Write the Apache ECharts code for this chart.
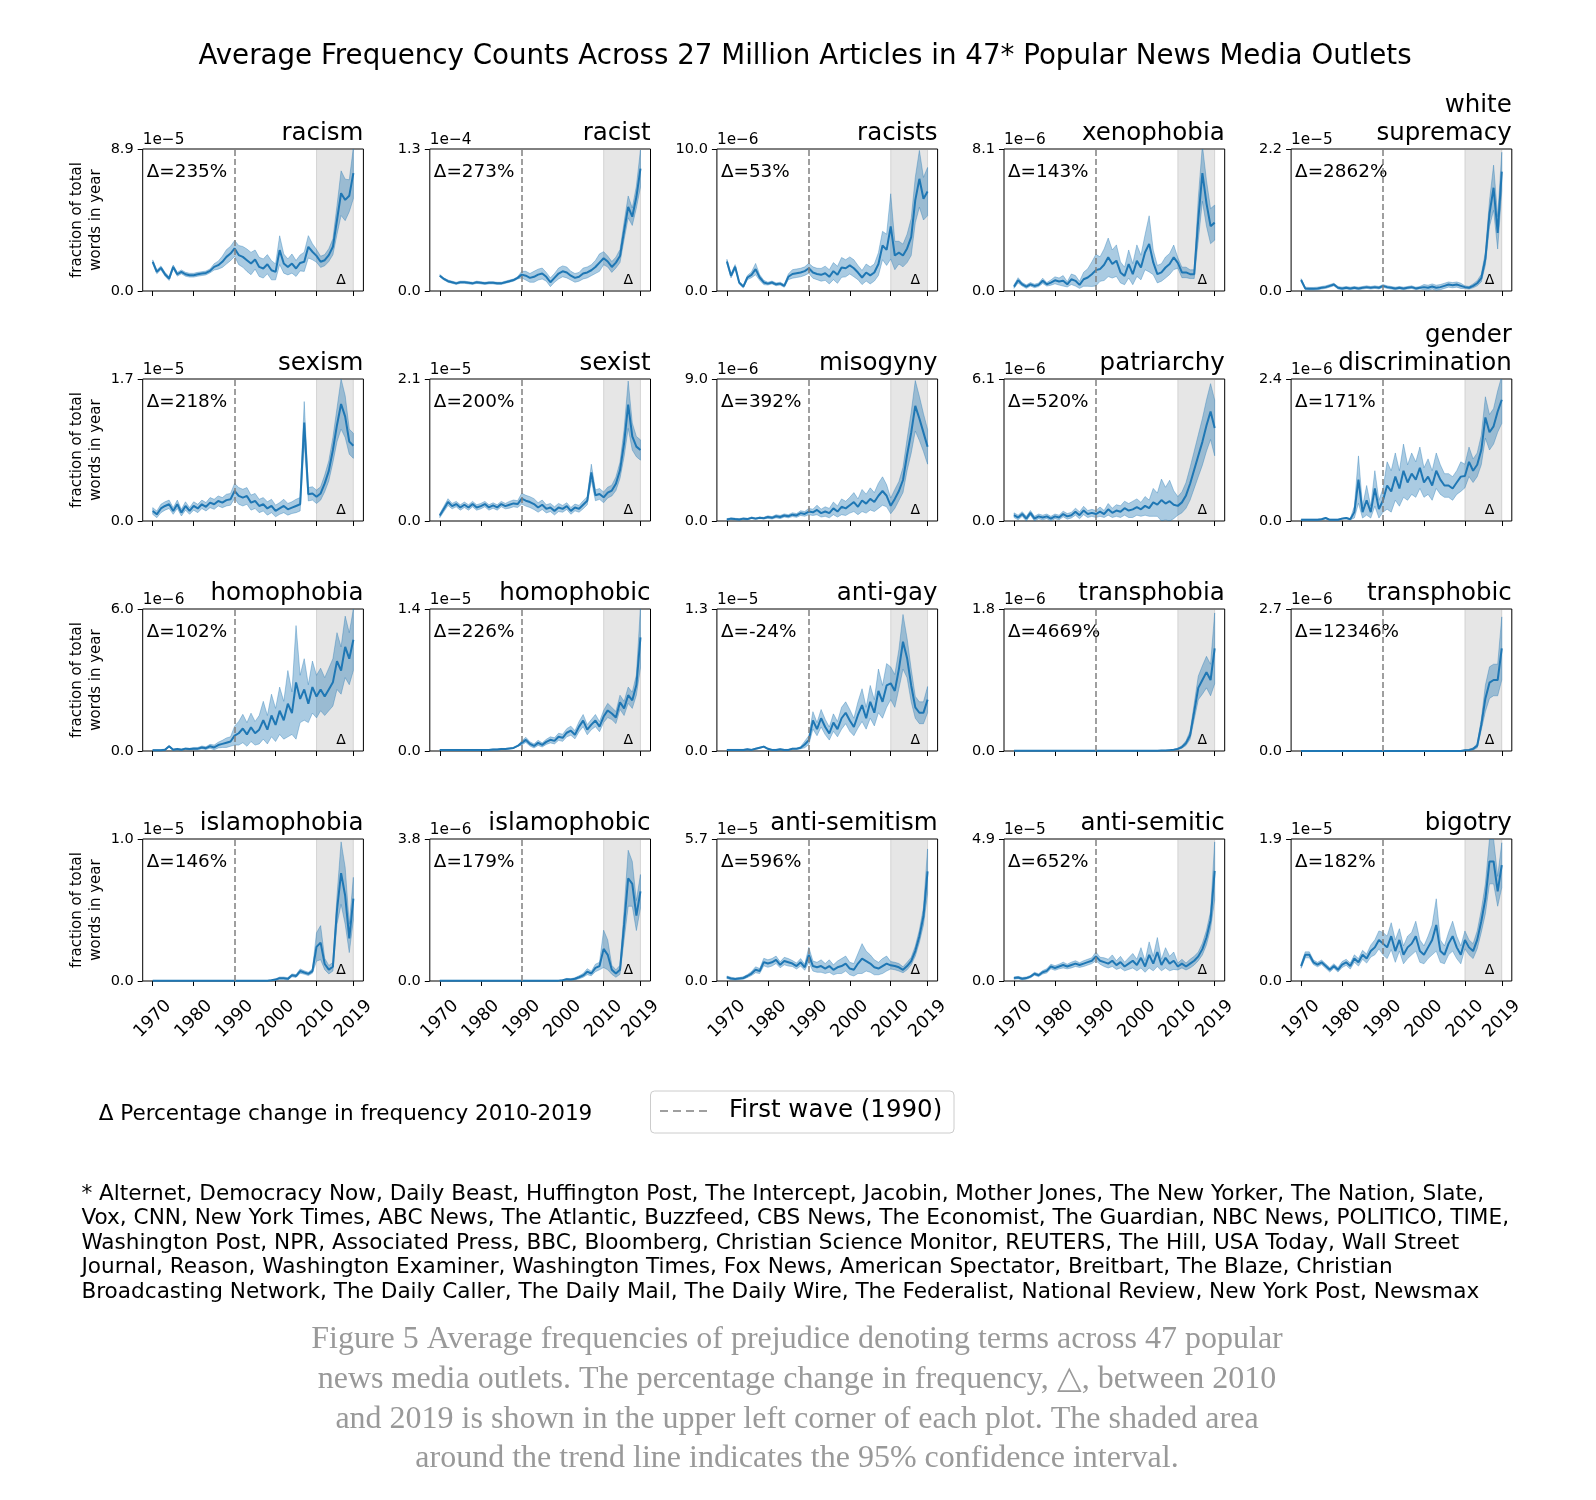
<!DOCTYPE html>
<html><head><meta charset="utf-8">
<script src="https://cdn.jsdelivr.net/npm/echarts@6.0.0/dist/echarts.min.js"></script>
<style>html,body{margin:0;padding:0;background:#fff}#c{width:1596px;height:1500px}</style>
</head><body><div id="c"></div>
<script>
const years = [1970,1971,1972,1973,1974,1975,1976,1977,1978,1979,1980,1981,1982,1983,1984,1985,1986,1987,1988,1989,1990,1991,1992,1993,1994,1995,1996,1997,1998,1999,2000,2001,2002,2003,2004,2005,2006,2007,2008,2009,2010,2011,2012,2013,2014,2015,2016,2017,2018,2019];
const xTicks = [1970,1980,1990,2000,2010,2019];
const titles = ['racism','racist','racists','xenophobia','white\nsupremacy','sexism','sexist','misogyny','patriarchy','gender\ndiscrimination','homophobia','homophobic','anti-gay','transphobia','transphobic','islamophobia','islamophobic','anti-semitism','anti-semitic','bigotry'];
const offsets = ['1e\u22125','1e\u22124','1e\u22126','1e\u22126','1e\u22125','1e\u22125','1e\u22125','1e\u22126','1e\u22126','1e\u22126','1e\u22126','1e\u22125','1e\u22125','1e\u22126','1e\u22126','1e\u22125','1e\u22126','1e\u22125','1e\u22125','1e\u22125'];
const yMax = [8.9,1.3,10.0,8.1,2.2, 1.7,2.1,9.0,6.1,2.4, 6.0,1.4,1.3,1.8,2.7, 1.0,3.8,5.7,4.9,1.9];
const deltas = ['235','273','53','143','2862','218','200','392','520','171','102','226','-24','4669','12346','146','179','596','652','182'];

// values in units of the panel's offset (e.g. racism in 1e-5), CI = half width of 95% band
const racism = [1.83,1.2,1.45,1.05,0.78,1.51,1.05,1.2,1.05,0.99, 0.99,1.05,1.09,1.13,1.26,1.51,1.62,1.83,2.14,2.35, 2.67,2.25,2.14,1.93,1.72,1.97,1.51,1.41,1.68,1.3, 1.2,2.56,1.72,1.51,1.72,1.41,1.76,1.83,2.77,2.46, 2.2,1.83,1.93,2.25,2.77,4.45,6.13,5.71,5.97,7.39];
const racismCI = [0.12,0.12,0.12,0.12,0.12,0.12,0.12,0.12,0.12,0.12, 0.12,0.12,0.12,0.12,0.12,0.2,0.25,0.35,0.45,0.45, 0.5,0.6,0.65,0.7,0.7,0.6,0.6,0.6,0.6,0.6, 0.5,0.9,0.6,0.5,0.6,0.5,0.5,0.6,0.7,0.5, 0.4,0.35,0.35,0.4,0.5,0.9,1.4,1.3,1.0,1.6];
const racist = [0.14,0.11,0.09,0.08,0.07,0.08,0.08,0.075,0.07,0.08, 0.075,0.07,0.075,0.075,0.07,0.07,0.08,0.09,0.1,0.12, 0.15,0.14,0.12,0.13,0.15,0.16,0.13,0.08,0.12,0.16, 0.18,0.17,0.14,0.12,0.13,0.16,0.17,0.19,0.22,0.26, 0.3,0.27,0.22,0.26,0.32,0.55,0.77,0.68,0.86,1.12];
const racistCI = [0.01,0.01,0.01,0.01,0.01,0.01,0.01,0.01,0.01,0.01, 0.01,0.01,0.01,0.01,0.01,0.01,0.01,0.01,0.01,0.01, 0.03,0.04,0.04,0.05,0.05,0.05,0.04,0.04,0.04,0.05, 0.05,0.05,0.04,0.04,0.04,0.05,0.05,0.05,0.06,0.08, 0.06,0.05,0.05,0.05,0.06,0.08,0.1,0.08,0.1,0.17];
const racists = [2.08,1.07,1.71,0.59,0.31,0.95,1.14,1.54,0.95,0.6, 0.52,0.6,0.47,0.52,0.36,1.0,1.2,1.25,1.3,1.4, 1.6,1.3,1.2,1.14,1.25,1.0,1.4,1.14,1.66,1.6, 1.8,1.6,1.3,0.95,1.3,1.1,1.3,1.9,3.2,2.9, 4.55,2.5,2.7,2.5,3.0,3.8,6.4,7.9,6.5,7.0];
const racistsCI = [0.15,0.15,0.15,0.1,0.1,0.15,0.2,0.4,0.2,0.15, 0.1,0.1,0.1,0.1,0.1,0.2,0.3,0.3,0.3,0.3, 0.35,0.4,0.4,0.45,0.5,0.5,0.6,0.6,0.7,0.6, 0.6,0.6,0.5,0.5,0.6,0.6,0.6,0.8,1.0,1.1, 2.3,1.0,0.8,0.8,1.0,1.3,1.6,2.0,1.5,1.7];
const xenophobia = [0.25,0.61,0.38,0.25,0.38,0.29,0.35,0.58,0.38,0.48, 0.61,0.54,0.58,0.38,0.67,0.58,0.35,0.67,0.77,0.96, 1.19,1.25,1.5,1.92,1.54,1.73,1.06,0.86,1.54,0.96, 1.73,1.34,2.21,2.69,1.63,0.96,1.06,1.34,1.54,1.92, 1.6,1.06,1.06,0.96,0.96,4.1,6.72,5.0,3.7,3.9];
const xenophobiaCI = [0.1,0.15,0.1,0.1,0.1,0.1,0.1,0.15,0.1,0.15, 0.2,0.2,0.3,0.15,0.3,0.3,0.2,0.4,0.5,0.7, 0.9,0.7,0.9,1.1,0.8,0.9,0.6,0.5,0.8,0.6, 0.9,0.7,1.0,1.6,0.7,0.5,0.5,0.6,0.6,0.7, 0.3,0.3,0.3,0.25,0.25,1.2,1.6,1.3,1.0,1.0];
const whiteSupremacy = [0.17,0.04,0.035,0.035,0.04,0.05,0.06,0.08,0.1,0.05, 0.04,0.05,0.04,0.05,0.04,0.05,0.06,0.05,0.06,0.05, 0.08,0.06,0.05,0.04,0.05,0.04,0.05,0.06,0.04,0.05, 0.06,0.05,0.07,0.05,0.06,0.08,0.1,0.09,0.1,0.08, 0.06,0.05,0.08,0.12,0.2,0.5,1.2,1.6,0.9,1.85];
const whiteSupremacyCI = [0.02,0.02,0.02,0.02,0.02,0.02,0.02,0.02,0.02,0.02, 0.02,0.02,0.02,0.02,0.02,0.02,0.02,0.02,0.02,0.02, 0.02,0.02,0.02,0.02,0.02,0.02,0.02,0.02,0.02,0.02, 0.04,0.04,0.04,0.04,0.04,0.04,0.04,0.04,0.04,0.04, 0.02,0.02,0.03,0.04,0.06,0.1,0.2,0.35,0.25,0.3];
const sexism = [0.12,0.08,0.15,0.18,0.2,0.12,0.2,0.1,0.18,0.12, 0.18,0.15,0.2,0.17,0.22,0.2,0.24,0.22,0.25,0.26, 0.36,0.3,0.28,0.3,0.22,0.24,0.18,0.2,0.15,0.18, 0.12,0.15,0.18,0.14,0.16,0.18,0.2,1.18,0.32,0.33, 0.29,0.33,0.45,0.6,0.85,1.15,1.4,1.25,0.95,0.9];
const sexismCI = [0.04,0.04,0.05,0.05,0.05,0.04,0.05,0.04,0.05,0.04, 0.05,0.05,0.05,0.05,0.06,0.06,0.06,0.06,0.07,0.07, 0.09,0.1,0.1,0.1,0.09,0.09,0.08,0.08,0.08,0.08, 0.07,0.07,0.08,0.07,0.07,0.08,0.08,0.25,0.08,0.08, 0.08,0.08,0.1,0.12,0.15,0.2,0.3,0.25,0.15,0.15];
const sexist = [0.08,0.18,0.28,0.22,0.25,0.2,0.24,0.2,0.25,0.2, 0.22,0.25,0.2,0.23,0.2,0.25,0.22,0.24,0.26,0.25, 0.33,0.3,0.28,0.25,0.2,0.24,0.18,0.2,0.15,0.2, 0.18,0.22,0.15,0.2,0.18,0.24,0.3,0.72,0.38,0.4, 0.35,0.42,0.45,0.55,0.75,1.15,1.72,1.25,1.1,1.05];
const sexistCI = [0.03,0.04,0.05,0.04,0.04,0.04,0.04,0.04,0.04,0.04, 0.04,0.04,0.04,0.04,0.04,0.04,0.04,0.05,0.05,0.05, 0.08,0.08,0.08,0.08,0.07,0.07,0.06,0.06,0.06,0.06, 0.05,0.05,0.05,0.05,0.05,0.06,0.06,0.12,0.08,0.08, 0.08,0.08,0.08,0.1,0.12,0.2,0.35,0.2,0.15,0.15];
const misogyny = [0.1,0.15,0.12,0.1,0.15,0.12,0.2,0.15,0.2,0.18, 0.25,0.2,0.3,0.25,0.35,0.3,0.4,0.35,0.5,0.45, 0.6,0.55,0.7,0.5,0.6,0.5,0.8,0.6,0.9,0.8, 1.0,1.2,0.9,1.3,1.1,1.4,1.2,1.6,1.9,1.6, 0.96,1.4,1.9,2.6,4.2,5.6,7.3,6.5,5.6,4.7];
const misogynyCI = [0.05,0.05,0.05,0.05,0.05,0.05,0.05,0.05,0.05,0.05, 0.08,0.08,0.1,0.1,0.1,0.1,0.12,0.12,0.15,0.15, 0.2,0.2,0.3,0.25,0.3,0.3,0.4,0.35,0.5,0.45, 0.5,0.6,0.5,0.7,0.6,0.7,0.6,0.8,0.9,0.7, 0.5,0.6,0.6,0.8,1.0,1.3,1.6,1.4,1.2,1.1];
const patriarchy = [0.25,0.15,0.3,0.1,0.35,0.1,0.2,0.15,0.2,0.1, 0.2,0.15,0.3,0.2,0.25,0.4,0.25,0.45,0.3,0.35, 0.3,0.4,0.3,0.5,0.35,0.45,0.4,0.55,0.45,0.5, 0.6,0.5,0.65,0.55,0.8,0.7,0.9,0.75,0.85,0.7, 0.65,0.8,1.1,1.6,2.2,2.8,3.4,4.1,4.7,4.0];
const patriarchyCI = [0.1,0.1,0.1,0.1,0.1,0.1,0.1,0.1,0.1,0.1, 0.1,0.1,0.12,0.12,0.12,0.15,0.15,0.18,0.15,0.15, 0.15,0.2,0.15,0.25,0.2,0.25,0.25,0.3,0.3,0.35, 0.35,0.3,0.4,0.35,0.6,0.5,0.9,0.7,0.9,0.6, 0.4,0.45,0.55,0.7,0.8,0.9,1.0,1.1,1.2,1.2];
const genderDiscrimination = [0.02,0.02,0.02,0.02,0.02,0.03,0.05,0.02,0.02,0.02, 0.04,0.05,0.03,0.15,0.7,0.15,0.35,0.15,0.55,0.2, 0.35,0.6,0.5,0.75,0.55,0.85,0.65,0.8,0.7,0.9, 0.65,0.75,0.6,0.85,0.7,0.6,0.6,0.55,0.65,0.75, 0.76,1.0,0.85,0.95,1.2,1.75,1.5,1.6,1.85,2.05];
const genderDiscriminationCI = [0.01,0.01,0.01,0.01,0.01,0.01,0.01,0.01,0.01,0.01, 0.01,0.01,0.01,0.1,0.4,0.1,0.25,0.1,0.3,0.15, 0.2,0.4,0.35,0.4,0.3,0.45,0.3,0.35,0.3,0.35, 0.25,0.3,0.25,0.3,0.25,0.2,0.2,0.2,0.2,0.25, 0.2,0.25,0.2,0.2,0.25,0.35,0.3,0.3,0.35,0.4];
const homophobia = [0.03,0.03,0.03,0.05,0.2,0.05,0.08,0.05,0.1,0.08, 0.1,0.1,0.15,0.12,0.2,0.15,0.25,0.3,0.35,0.4, 0.65,0.75,0.95,0.7,1.0,0.75,0.9,1.3,0.9,1.5, 1.1,1.7,1.3,2.0,1.6,2.9,2.2,2.6,2.0,2.7, 2.3,2.6,2.3,2.6,2.9,3.8,3.4,4.4,3.9,4.7];
const homophobiaCI = [0.03,0.03,0.03,0.03,0.03,0.03,0.03,0.03,0.03,0.03, 0.05,0.05,0.06,0.06,0.08,0.1,0.12,0.15,0.2,0.2, 0.4,0.5,0.6,0.5,0.6,0.5,0.6,0.8,0.6,0.9, 0.7,1.0,0.8,1.4,0.9,2.4,1.0,1.3,0.8,1.1, 0.9,0.9,0.8,0.9,1.0,1.2,1.0,1.3,1.1,1.3];
const homophobic = [0.01,0.01,0.01,0.01,0.01,0.01,0.01,0.01,0.01,0.01, 0.01,0.01,0.01,0.015,0.015,0.02,0.02,0.025,0.03,0.05, 0.08,0.11,0.07,0.05,0.08,0.06,0.09,0.11,0.1,0.14, 0.13,0.18,0.2,0.16,0.24,0.3,0.21,0.26,0.3,0.24, 0.34,0.4,0.37,0.33,0.48,0.42,0.55,0.5,0.65,1.12];
const homophobicCI = [0.005,0.005,0.005,0.005,0.005,0.005,0.005,0.005,0.005,0.005, 0.005,0.005,0.005,0.005,0.005,0.005,0.005,0.005,0.005,0.005, 0.02,0.025,0.02,0.02,0.025,0.02,0.025,0.03,0.03,0.035, 0.035,0.04,0.045,0.04,0.05,0.06,0.05,0.05,0.06,0.05, 0.06,0.07,0.06,0.06,0.07,0.07,0.08,0.08,0.1,0.3];
const antiGay = [0.01,0.01,0.01,0.01,0.01,0.015,0.01,0.02,0.03,0.04, 0.02,0.01,0.01,0.015,0.01,0.01,0.02,0.02,0.03,0.06, 0.1,0.28,0.2,0.3,0.22,0.16,0.26,0.2,0.3,0.35, 0.28,0.22,0.33,0.42,0.3,0.45,0.35,0.55,0.45,0.6, 0.62,0.55,0.75,1.0,0.85,0.6,0.4,0.35,0.35,0.47];
const antiGayCI = [0.005,0.005,0.005,0.005,0.005,0.005,0.005,0.005,0.005,0.005, 0.005,0.005,0.005,0.005,0.005,0.005,0.005,0.005,0.01,0.03, 0.04,0.08,0.06,0.08,0.07,0.06,0.08,0.07,0.1,0.1, 0.1,0.08,0.12,0.15,0.1,0.15,0.12,0.2,0.15,0.2, 0.15,0.15,0.18,0.25,0.18,0.15,0.1,0.1,0.1,0.12];
const transphobia = [0.002,0.002,0.002,0.002,0.002,0.002,0.002,0.002,0.002,0.002, 0.002,0.002,0.002,0.002,0.002,0.002,0.002,0.002,0.002,0.002, 0.002,0.002,0.002,0.002,0.002,0.002,0.002,0.002,0.002,0.002, 0.002,0.002,0.002,0.002,0.002,0.002,0.005,0.005,0.01,0.015, 0.027,0.05,0.1,0.2,0.5,0.8,0.9,1.0,0.9,1.3];
const transphobiaCI = [0.002,0.002,0.002,0.002,0.002,0.002,0.002,0.002,0.002,0.002, 0.002,0.002,0.002,0.002,0.002,0.002,0.002,0.002,0.002,0.002, 0.002,0.002,0.002,0.002,0.002,0.002,0.002,0.002,0.002,0.002, 0.002,0.002,0.002,0.002,0.002,0.002,0.002,0.002,0.002,0.002, 0.01,0.015,0.03,0.05,0.1,0.15,0.18,0.2,0.2,0.45];
const transphobic = [0.001,0.001,0.001,0.001,0.001,0.001,0.001,0.001,0.001,0.001, 0.001,0.001,0.001,0.001,0.001,0.001,0.001,0.001,0.001,0.001, 0.001,0.001,0.001,0.001,0.001,0.001,0.001,0.001,0.001,0.001, 0.001,0.001,0.001,0.001,0.001,0.001,0.001,0.001,0.001,0.001, 0.016,0.02,0.04,0.1,0.5,1.0,1.3,1.35,1.35,1.95];
const transphobicCI = [0.001,0.001,0.001,0.001,0.001,0.001,0.001,0.001,0.001,0.001, 0.001,0.001,0.001,0.001,0.001,0.001,0.001,0.001,0.001,0.001, 0.001,0.001,0.001,0.001,0.001,0.001,0.001,0.001,0.001,0.001, 0.001,0.001,0.001,0.001,0.001,0.001,0.001,0.001,0.001,0.001, 0.005,0.01,0.02,0.04,0.1,0.25,0.3,0.3,0.3,0.6];
const islamophobia = [0.002,0.002,0.002,0.002,0.002,0.002,0.002,0.002,0.002,0.002, 0.002,0.002,0.002,0.002,0.002,0.002,0.002,0.002,0.002,0.002, 0.002,0.002,0.002,0.002,0.002,0.002,0.002,0.002,0.002,0.005, 0.01,0.02,0.02,0.015,0.04,0.035,0.07,0.06,0.05,0.07, 0.24,0.27,0.12,0.08,0.1,0.5,0.76,0.6,0.3,0.58];
const islamophobiaCI = [0.001,0.001,0.001,0.001,0.001,0.001,0.001,0.001,0.001,0.001, 0.001,0.001,0.001,0.001,0.001,0.001,0.001,0.001,0.001,0.001, 0.001,0.001,0.001,0.001,0.001,0.001,0.001,0.001,0.001,0.003, 0.005,0.008,0.008,0.008,0.01,0.01,0.015,0.012,0.012,0.015, 0.1,0.12,0.04,0.03,0.03,0.1,0.22,0.2,0.1,0.15];
const islamophobic = [0.01,0.01,0.01,0.01,0.01,0.01,0.01,0.01,0.01,0.01, 0.01,0.01,0.01,0.01,0.01,0.01,0.01,0.01,0.01,0.01, 0.01,0.01,0.01,0.01,0.01,0.01,0.01,0.01,0.01,0.01, 0.02,0.05,0.04,0.06,0.1,0.15,0.25,0.2,0.35,0.4, 0.86,0.7,0.3,0.2,0.3,1.5,2.75,2.6,1.75,2.4];
const islamophobicCI = [0.005,0.005,0.005,0.005,0.005,0.005,0.005,0.005,0.005,0.005, 0.005,0.005,0.005,0.005,0.005,0.005,0.005,0.005,0.005,0.005, 0.005,0.005,0.005,0.005,0.005,0.005,0.005,0.005,0.005,0.005, 0.01,0.02,0.02,0.03,0.04,0.05,0.08,0.06,0.1,0.1, 0.5,0.4,0.12,0.1,0.12,0.4,0.75,0.6,0.4,0.45];
const antiSemitism = [0.15,0.1,0.08,0.1,0.12,0.2,0.3,0.45,0.4,0.76, 0.7,0.75,0.85,0.65,0.8,0.75,0.7,0.6,0.75,0.55, 1.05,0.6,0.55,0.6,0.5,0.6,0.45,0.55,0.6,0.7, 0.5,0.45,0.7,0.9,0.8,0.7,0.55,0.5,0.6,0.7, 0.63,0.6,0.55,0.45,0.6,0.8,1.2,1.8,2.6,4.4];
const antiSemitismCI = [0.05,0.05,0.04,0.04,0.05,0.06,0.08,0.12,0.1,0.15, 0.15,0.15,0.15,0.12,0.15,0.15,0.12,0.12,0.15,0.12, 0.3,0.2,0.2,0.25,0.2,0.25,0.2,0.25,0.3,0.3, 0.25,0.25,0.4,0.6,0.4,0.35,0.3,0.25,0.3,0.3, 0.15,0.15,0.15,0.12,0.15,0.15,0.2,0.25,0.35,0.9];
const antiSemitic = [0.1,0.12,0.08,0.1,0.15,0.25,0.2,0.3,0.35,0.5, 0.45,0.5,0.55,0.5,0.55,0.6,0.55,0.6,0.65,0.7, 0.85,0.7,0.65,0.6,0.7,0.55,0.65,0.5,0.6,0.7, 0.55,0.8,0.5,0.9,0.6,1.0,0.55,0.8,0.6,0.7, 0.5,0.6,0.5,0.6,0.7,0.85,1.1,1.5,2.1,3.8];
const antiSemiticCI = [0.04,0.04,0.04,0.04,0.04,0.05,0.05,0.06,0.07,0.08, 0.08,0.08,0.1,0.08,0.1,0.1,0.08,0.1,0.1,0.1, 0.15,0.12,0.15,0.15,0.2,0.15,0.2,0.15,0.2,0.25, 0.2,0.35,0.2,0.45,0.25,0.5,0.2,0.35,0.25,0.3, 0.12,0.15,0.12,0.15,0.15,0.15,0.2,0.25,0.3,1.0];
const bigotry = [0.2,0.35,0.35,0.25,0.22,0.25,0.2,0.15,0.2,0.15, 0.22,0.25,0.2,0.3,0.25,0.35,0.3,0.4,0.45,0.55, 0.5,0.45,0.6,0.4,0.55,0.35,0.45,0.5,0.6,0.4, 0.35,0.45,0.55,0.75,0.4,0.35,0.5,0.6,0.45,0.35, 0.55,0.45,0.4,0.55,0.8,1.1,1.6,1.6,1.2,1.55];
const bigotryCI = [0.03,0.04,0.04,0.03,0.03,0.03,0.03,0.03,0.03,0.03, 0.04,0.04,0.04,0.05,0.05,0.06,0.06,0.08,0.1,0.12, 0.15,0.15,0.18,0.15,0.15,0.12,0.15,0.15,0.2,0.15, 0.12,0.15,0.2,0.35,0.15,0.12,0.15,0.2,0.15,0.12, 0.12,0.1,0.1,0.12,0.15,0.2,0.3,0.3,0.2,0.3];

const values = [racism,racist,racists,xenophobia,whiteSupremacy,sexism,sexist,misogyny,patriarchy,genderDiscrimination,homophobia,homophobic,antiGay,transphobia,transphobic,islamophobia,islamophobic,antiSemitism,antiSemitic,bigotry];
const cis = [racismCI,racistCI,racistsCI,xenophobiaCI,whiteSupremacyCI,sexismCI,sexistCI,misogynyCI,patriarchyCI,genderDiscriminationCI,homophobiaCI,homophobicCI,antiGayCI,transphobiaCI,transphobicCI,islamophobiaCI,islamophobicCI,antiSemitismCI,antiSemiticCI,bigotryCI];

const footnote = [
 '* Alternet, Democracy Now, Daily Beast, Huffington Post, The Intercept, Jacobin, Mother Jones, The New Yorker, The Nation, Slate,',
 'Vox, CNN, New York Times, ABC News, The Atlantic, Buzzfeed, CBS News, The Economist, The Guardian, NBC News, POLITICO, TIME,',
 'Washington Post, NPR, Associated Press, BBC, Bloomberg, Christian Science Monitor, REUTERS, The Hill, USA Today, Wall Street',
 'Journal, Reason, Washington Examiner, Washington Times, Fox News, American Spectator, Breitbart, The Blaze, Christian',
 'Broadcasting Network, The Daily Caller, The Daily Mail, The Daily Wire, The Federalist, National Review, New York Post, Newsmax'];
const caption = [
 'Figure 5 Average frequencies of prejudice denoting terms across 47 popular',
 'news media outlets. The percentage change in frequency, \u25B3, between 2010',
 'and 2019 is shown in the upper left corner of each plot. The shaded area',
 'around the trend line indicates the 95% confidence interval.'];

const FONT = 'DejaVu Sans';
const L0 = 142.7, DX = 287.1, W = 220.7, T0 = 149, DY = 230, H = 142;
const grid = [], xAxis = [], yAxis = [], series = [], graphic = [];

for (let i = 0; i < 20; i++) {
  const r = Math.floor(i / 5), c = i % 5;
  const left = L0 + DX * c, top = T0 + DY * r;
  grid.push({left: left, top: top, width: W, height: H, show: true, borderColor: '#000', borderWidth: 1, backgroundColor: 'transparent'});
  xAxis.push({type: 'value', gridIndex: i, min: 1967.55, max: 2021.45,
    axisLine: {show: false}, splitLine: {show: false},
    axisTick: {show: true, customValues: xTicks, length: 5, lineStyle: {color: '#000', width: 1}},
    axisLabel: {show: r === 3, customValues: xTicks, rotate: 45, align: 'center', verticalAlign: 'middle', margin: 38,
      fontSize: 17.5, color: '#000', fontFamily: FONT, formatter: v => String(v)}});
  yAxis.push({type: 'value', gridIndex: i, min: 0, max: yMax[i],
    axisLine: {show: false}, splitLine: {show: false},
    axisTick: {show: true, customValues: [0, yMax[i]], length: 5, lineStyle: {color: '#000', width: 1}},
    axisLabel: {show: true, customValues: [0, yMax[i]], margin: 9, fontSize: 14.5, color: '#000', fontFamily: FONT,
      formatter: v => Number(v).toFixed(1)}});

  const v = values[i], ci = cis[i];
  const lo = v.map((y, k) => Math.max(0, y - ci[k]));
  const hi = v.map((y, k) => y + ci[k]);
  const line = v.map((y, k) => [years[k], y]);
  // carrier for the shaded 2010-2019 span and the 1990 dashed marker (drawn beneath the band)
  series.push({type: 'line', xAxisIndex: i, yAxisIndex: i, data: line, symbol: 'none', silent: true, z: 1,
    lineStyle: {opacity: 0},
    markArea: {silent: true, itemStyle: {color: 'rgba(128,128,128,0.2)', borderColor: 'rgba(128,128,128,0.25)', borderWidth: 1},
      label: {show: true, formatter: '\u0394', position: 'insideBottomRight', distance: 8, offset: [0, 4], fontSize: 14, color: '#000', fontFamily: FONT},
      data: [[{xAxis: 2010}, {xAxis: 2019}]]},
    markLine: {silent: true, symbol: 'none', label: {show: false}, lineStyle: {color: '#808080', type: [6, 3], width: 1.5},
      data: [{xAxis: 1990}]}});
  // 95% confidence band
  series.push({type: 'custom', xAxisIndex: i, yAxisIndex: i, data: [[1990, 0]], silent: true, z: 2, clip: true,
    renderItem: (params, api) => {
      const pts = [];
      for (let k = 0; k < years.length; k++) pts.push(api.coord([years[k], hi[k]]));
      for (let k = years.length - 1; k >= 0; k--) pts.push(api.coord([years[k], lo[k]]));
      return {type: 'polygon', shape: {points: pts},
        style: {fill: 'rgba(31,119,180,0.38)', stroke: 'rgba(31,119,180,0.45)', lineWidth: 0.8}};
    }});
  series.push({type: 'line', xAxisIndex: i, yAxisIndex: i, data: line, symbol: 'none', silent: true, z: 3,
    lineStyle: {color: '#1f77b4', width: 2}});

  graphic.push({type: 'text', x: left + W, y: top - 1, style: {text: titles[i], fill: '#000', fontSize: 24.5, fontFamily: FONT, align: 'right', verticalAlign: 'bottom', lineHeight: 28}});
  graphic.push({type: 'text', x: left, y: top - 1, style: {text: offsets[i], fill: '#000', fontSize: 15.3, fontFamily: FONT, align: 'left', verticalAlign: 'bottom'}});
  graphic.push({type: 'text', x: left + 4, y: top + 23, style: {text: '\u0394=' + deltas[i] + '%', fill: '#000', fontSize: 18.4, fontFamily: FONT, align: 'left', verticalAlign: 'middle'}});
  if (c === 0) {
    graphic.push({type: 'text', x: 86.5, y: top + H / 2, rotation: Math.PI / 2,
      style: {text: 'fraction of total\nwords in year', fill: '#000', fontSize: 15, lineHeight: 19, fontFamily: FONT, align: 'center', verticalAlign: 'middle'}});
  }
}

graphic.push({type: 'text', x: 805, y: 57, style: {text: 'Average Frequency Counts Across 27 Million Articles in 47* Popular News Media Outlets', fill: '#000', fontSize: 27.7, fontFamily: FONT, align: 'center', verticalAlign: 'middle'}});
graphic.push({type: 'text', x: 98.7, y: 1114, style: {text: '\u0394 Percentage change in frequency 2010-2019', fill: '#000', fontSize: 21.5, fontFamily: FONT, align: 'left', verticalAlign: 'middle'}});
graphic.push({type: 'rect', shape: {x: 650.5, y: 1091, width: 303.5, height: 42, r: 4}, style: {fill: '#fff', stroke: '#cccccc', lineWidth: 1}});
graphic.push({type: 'line', shape: {x1: 660, y1: 1111, x2: 707.5, y2: 1111}, style: {stroke: '#808080', lineWidth: 1.5, lineDash: [8, 5]}});
graphic.push({type: 'text', x: 729, y: 1111, style: {text: 'First wave (1990)', fill: '#000', fontSize: 24.5, fontFamily: FONT, align: 'left', verticalAlign: 'middle'}});
footnote.forEach((t, k) => graphic.push({type: 'text', x: 81.4, y: 1194 + 24.5 * k, style: {text: t, fill: '#000', fontSize: 21.6, fontFamily: FONT, align: 'left', verticalAlign: 'middle'}}));
caption.forEach((t, k) => graphic.push({type: 'text', x: 797, y: 1340 + 39.6 * k, style: {text: t, fill: '#999999', fontSize: 32, fontFamily: 'Liberation Serif', align: 'center', verticalAlign: 'middle'}}));

const chart = echarts.init(document.getElementById('c'), null, {renderer: 'canvas'});
chart.setOption({animation: false, backgroundColor: '#fff', grid: grid, xAxis: xAxis, yAxis: yAxis, series: series, graphic: graphic});
</script></body></html>
